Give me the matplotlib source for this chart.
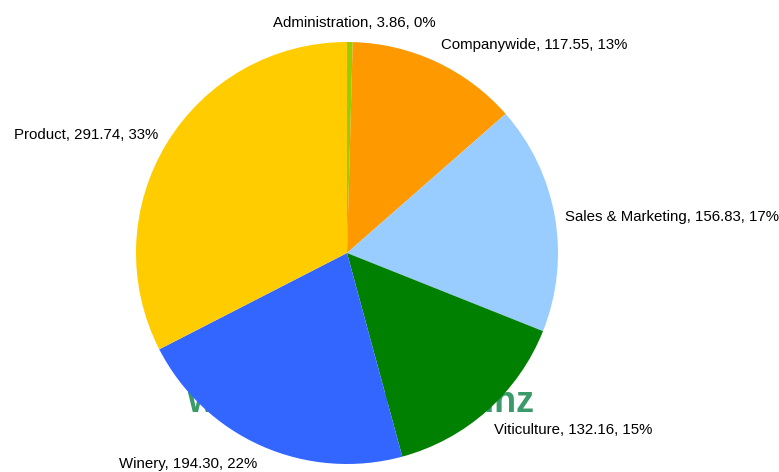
import matplotlib.pyplot as plt

# department costs
labels = ["Administration", "Companywide", "Sales & Marketing",
          "Viticulture", "Winery", "Product"]
values = [3.86, 117.55, 156.83, 132.16, 194.30, 291.74]
colors = ["#99cc00", "#ff9900", "#99ccff", "#008000", "#3366ff", "#ffcc00"]

total = sum(values)
pie_labels = ["%s, %.2f, %d%%" % (l, v, round(v / total * 100))
              for l, v in zip(labels, values)]

plt.rcParams['font.family'] = ['Liberation Sans', 'DejaVu Sans']

fig = plt.figure(figsize=(7.79, 4.72), dpi=100)
ax = fig.add_axes([0, 0, 1, 1])

cx, cy, r = 347, 219, 211

# watermark, mostly hidden behind the pie
ax.text(187, 70, "www.winetech.co.nz", fontsize=25.8, fontweight='bold',
        color='#3a9a6a', ha='left', va='center', zorder=0)

wedges, texts = ax.pie(values, labels=pie_labels, colors=colors,
                       startangle=90, counterclock=False,
                       center=(cx, cy), radius=r, labeldistance=1.05,
                       textprops={'fontsize': 10.8}, frame=True)
for w in wedges:
    w.set_zorder(2)

# labels sit a bit further out vertically, left-side ones right aligned
for t in texts:
    x, y = t.get_position()
    t.set_y(max(cy + (y - cy) * 1.05 - 3, 8))
    t.set_ha('right' if x < cx - 5 else 'left')
texts[0].set_ha('center')
texts[0].set_x(texts[0].get_position()[0] + 4)

ax.set_xlim(0, 779)
ax.set_ylim(0, 472)
ax.set_aspect('equal')
ax.axis('off')

fig.savefig('out.png', dpi=100)
